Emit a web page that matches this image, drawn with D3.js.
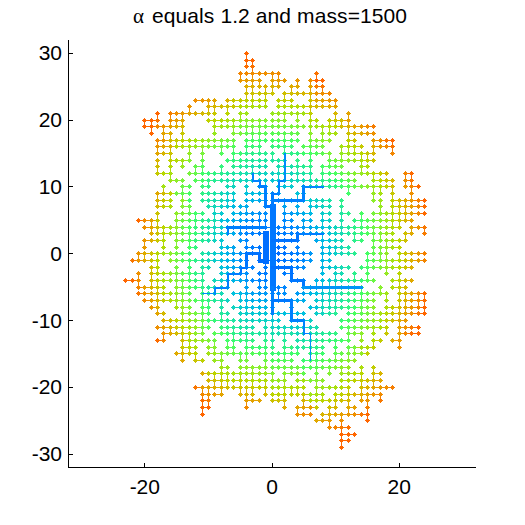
<!DOCTYPE html>
<html><head><meta charset="utf-8">
<script src="https://cdn.jsdelivr.net/npm/d3@7"></script>
<style>html,body{margin:0;padding:0;background:#fff}svg{display:block}text{font-family:"Liberation Sans",Arial,sans-serif;fill:#000}</style>
</head><body><div id="c"></div>
<script>
const titleText = "equals 1.2 and mass=1500";
const xTicks = [-20,0,20];
const yTicks = [-30,-20,-10,0,10,20,30];
// horizontal bonds of the lattice tree: row y, then [x1,x2] runs
const rowY = [30,29,28,27,26,25,24,23,22,21,20,19,18,17,16,15,14,13,12,11,10,9,8,7,6,5,4,3,2,1,0,-1,-2,-3,-4,-5,-6,-7,-8,-9,-10,-11,-12,-13,-14,-15,-16,-17,-18,-19,-20,-21,-22,-23,-24,-25,-26,-27,-28,-29];
const rowRuns = [
[[-4,-4]],
[[-4,-3]],
[[-4,-4],[-3,-3]],
[[-5,-5],[-4,1],[7,7]],
[[-5,-2],[0,2],[4,4],[6,8]],
[[-4,-3],[-2,-2],[-1,-1],[0,1],[3,4],[6,6],[7,8]],
[[-4,-4],[-3,0],[2,9]],
[[-12,-10],[-9,-9],[-7,-4],[-3,-1],[1,3],[6,10]],
[[-13,-13],[-10,-9],[-8,-1],[1,10]],
[[-18,-18],[-16,-13],[-12,-10],[-9,-9],[-7,-7],[-5,-4],[0,6],[10,10],[12,12]],
[[-20,-18],[-16,-14],[-10,-1],[0,2],[4,4],[6,7],[9,12]],
[[-20,-14],[-9,5],[7,16]],
[[-19,-19],[-17,-16],[-14,-14],[-9,-9],[-6,-1],[0,4],[6,6],[8,8],[9,10],[12,16]],
[[-18,-6],[-4,-1],[0,4],[6,9],[12,13],[16,19]],
[[-18,-6],[-4,-2],[0,3],[5,8],[11,14],[16,19]],
[[-18,-16],[-13,-13],[-11,-11],[-8,-8],[-6,-1],[0,0],[2,9],[11,16],[19,19]],
[[-18,-18],[-16,-13],[-11,-11],[-7,-1],[0,2],[4,4],[6,6],[9,16]],
[[-18,-18],[-16,-16],[-14,-14],[-12,-11],[-8,-8],[-6,-1],[1,6],[8,11],[14,15]],
[[-18,-16],[-13,-6],[-6,-1],[0,6],[8,18],[21,22]],
[[-16,-14],[-12,-3],[-3,-2],[-1,-1],[0,6],[7,13],[16,19],[21,22]],
[[-17,-17],[-14,-13],[-11,-10],[-7,-6],[-4,-4],[-2,-1],[1,3],[5,19],[22,23]],
[[-18,-13],[-11,-6],[-4,-1],[0,1],[4,4],[12,12],[16,16],[17,17],[19,19],[22,22]],
[[-18,-16],[-14,-13],[-11,-6],[-4,-2],[-1,-1],[0,9],[11,11],[16,16],[19,24]],
[[-18,-16],[-14,-13],[-10,-6],[-5,-4],[-1,-1],[0,0],[2,2],[4,4],[6,9],[11,11],[17,17],[19,24]],
[[-18,-18],[-15,-11],[-9,-8],[-6,-2],[-1,-1],[0,0],[2,6],[8,9],[11,12],[14,14],[16,24]],
[[-21,-18],[-15,-7],[-6,-2],[-1,-1],[0,0],[2,3],[5,6],[8,9],[11,11],[13,22]],
[[-20,-13],[-11,-1],[0,9],[10,20],[22,22],[23,24]],
[[-18,-6],[-5,-5],[-4,-1],[0,3],[4,8],[9,12],[13,16],[17,19],[21,22],[24,24]],
[[-20,-17],[-15,-10],[-8,-8],[-5,-4],[-1,-1],[0,4],[7,11],[13,14],[16,17],[18,21]],
[[-20,-20],[-17,-17],[-15,-15],[-13,-12],[-8,-6],[-4,-2],[-1,-1],[0,2],[4,4],[8,12],[17,20]],
[[-21,-13],[-11,-2],[-1,-1],[0,6],[8,9],[10,13],[15,16],[18,18],[20,24]],
[[-22,-18],[-16,-16],[-15,-5],[-4,-4],[-2,0],[0,6],[8,9],[15,24]],
[[-19,-18],[-15,-15],[-13,-13],[-11,-10],[-8,-4],[-3,-3],[-1,-1],[0,5],[8,12],[14,22]],
[[-21,-21],[-19,-11],[-8,-4],[-2,-1],[0,0],[2,3],[8,8],[10,11],[13,13],[15,15],[18,18],[20,20]],
[[-23,-21],[-19,-16],[-15,-11],[-9,-7],[-6,-4],[-3,-1],[0,0],[3,5],[7,7],[9,16],[19,22]],
[[-21,-17],[-15,-11],[-10,-7],[-2,-2],[-1,-1],[0,2],[5,14],[17,17],[19,21]],
[[-21,-16],[-15,-13],[-11,-8],[-6,-1],[0,0],[2,2],[4,18],[20,24]],
[[-20,-13],[-12,-7],[-5,-5],[-4,-1],[0,3],[4,5],[7,16],[18,18],[21,24]],
[[-19,-18],[-14,-13],[-11,-10],[-8,-8],[-6,-1],[0,0],[3,3],[6,16],[18,20],[21,24]],
[[-18,-17],[-14,-10],[-8,-7],[-5,-1],[0,5],[7,10],[12,24]],
[[-17,-6],[-5,-4],[-3,-1],[0,1],[3,6],[11,21]],
[[-18,-10],[-8,-3],[-1,-1],[0,7],[11,14],[15,18],[20,23]],
[[-17,-11],[-9,-1],[1,10],[12,14],[16,16],[18,18],[20,23]],
[[-18,-17],[-14,-10],[-9,-9],[-6,-3],[0,0],[2,2],[4,12],[14,14],[16,17],[19,20]],
[[-14,-12],[-10,-9],[-7,-6],[-4,-1],[0,0],[2,3],[5,8],[10,10],[12,16],[20,20]],
[[-15,-12],[-10,-5],[-3,-1],[0,4],[6,8],[10,11],[13,15]],
[[-14,-14],[-12,-11],[-9,-8],[-5,-5],[-4,-4],[-1,-1],[0,3],[5,13]],
[[-8,-7],[-5,-1],[0,6],[6,12],[14,14],[16,16]],
[[-11,-7],[-6,-1],[0,0],[2,5],[7,7],[9,9],[11,14],[16,17]],
[[-10,-7],[-6,-5],[-4,-1],[0,2],[4,6],[7,8],[11,17]],
[[-12,-7],[-6,-5],[-4,-1],[0,5],[7,10],[11,12],[14,15],[16,19]],
[[-11,-10],[-9,-8],[-5,-5],[-3,-3],[-1,-1],[0,2],[3,3],[4,4],[5,8],[10,17]],
[[-11,-10],[-4,-2],[0,2],[5,9],[11,12],[14,14],[17,17]],
[[-11,-10],[-4,-4],[2,2],[4,7],[9,10],[12,13],[15,15]],
[[-11,-11],[4,6],[8,15]],
[[7,9],[11,11],[15,15]],
[[9,9],[10,12]],
[[11,13]],
[[11,12]],
[[11,11]]
];
// vertical bonds: column x, then [y1,y2] runs
const colX = [-23,-21,-20,-19,-18,-17,-16,-15,-14,-13,-12,-11,-10,-9,-8,-7,-6,-5,-4,-3,-2,-1,0,1,2,3,4,5,6,7,8,9,10,11,12,13,14,15,16,17,18,19,20,21,22,23,24];
const colRuns = [
[],
[[0,-1],[-3,-4]],
[[20,19],[2,1],[0,-1]],
[[20,18],[5,3],[-2,-5]],
[[17,15],[14,12],[9,7],[6,3],[0,-3],[-4,-9]],
[[19,17],[4,1],[-12,-13]],
[[21,19],[18,17],[16,14],[14,11],[-11,-12]],
[[20,19],[17,16],[6,1],[-2,-8]],
[[21,17],[14,13],[9,7],[-4,-10],[-11,-13],[-13,-16]],
[[22,21],[16,14],[4,1],[-1,-4],[-12,-15]],
[[13,12],[6,4],[-15,-16]],
[[16,14],[14,12],[-2,-12],[-20,-24]],
[[22,21],[-20,-23],[-7,-9]],
[[23,21],[20,18],[7,2],[-13,-15],[-18,-20]],
[[17,15],[13,12],[-7,-10],[-15,-20]],
[[4,3],[9,7],[-3,-5],[-13,-14],[-18,-20]],
[[20,18],[17,14],[9,8],[-11,-15]],
[[27,26],[21,20],[-2,-3],[-15,-16],[-18,-21]],
[[30,28],[25,23],[20,18],[17,15],[0,-2],[-3,-9],[-12,-15],[-20,-23]],
[[29,28],[27,22],[19,17],[12,11],[-17,-21]],
[[26,25],[20,15],[11,10],[0,-1]],
[[25,22],[10,7],[3,-1],[-12,-16],[-19,-21]],
[[27,24],[9,-12]],
[[27,25],[13,11],[11,9],[-5,-7]],
[[24,23],[15,11],[8,4],[-11,-15],[-18,-23]],
[[25,24],[-2,-4],[-7,-10]],
[[26,25],[14,11],[3,2],[-14,-15],[-23,-24]],
[[10,8],[-4,-5],[-10,-12],[-21,-23]],
[[26,21],[20,19],[17,11],[8,6],[-12,-16]],
[[27,26],[-15,-20]],
[[25,24],[19,17],[13,11],[11,10],[6,4],[3,-3],[-4,-9],[-21,-22]],
[[20,18],[15,13],[1,0],[-4,-8],[-23,-26]],
[[23,22],[21,19],[-3,-9],[-13,-16],[-21,-23]],
[[20,19],[16,14],[8,3],[-26,-29]],
[[21,19],[19,15],[-14,-16],[-20,-24]],
[[16,15],[3,2],[-14,-15]],
[[15,12],[6,4],[-5,-9],[-17,-22]],
[[15,14],[0,-4],[-21,-25]],
[[17,15],[12,11],[4,0],[-13,-14],[-17,-18]],
[[8,6],[1,-1]],
[[2,-3]],
[[17,15],[10,4]],
[[8,4],[-3,-12],[-11,-14]],
[[12,10],[8,5],[-6,-9]],
[[12,10],[10,8]],
[[-6,-8]],
[[4,3],[-6,-9]]
];
// main stems and the flow they carry (from, to, flow)
const stemFrom = [[0,7],[0,-5],[-1,3],[0,7],[-1,7],[-1,10],[-2,10],[-2,11],[-3,11],[0,9],[0,9],[1,9],[1,11],[2,11],[0,8],[5,8],[5,10],[-1,4],[-7,4],[0,2],[4,2],[4,3],[0,-2],[3,-2],[3,-4],[5,-4],[5,-5],[-1,-1],[-2,-1],[-2,0],[-4,0],[-4,-2],[-5,-2],[-5,-3],[-7,-3],[-7,-5],[-9,-5],[-9,-6],[0,-7],[3,-7],[3,-10],[5,-10],[5,-12],[6,-12],[1,-5]];
const stemTo   = [[0,-5],[0,-9],[-1,-1],[-1,7],[-1,10],[-2,10],[-2,11],[-3,11],[-3,12],[0,7],[1,9],[1,11],[2,11],[2,15],[5,8],[5,10],[8,10],[-7,4],[-7,3],[4,2],[4,3],[8,3],[3,-2],[3,-4],[5,-4],[5,-5],[14,-5],[-2,-1],[-2,0],[-4,0],[-4,-2],[-5,-2],[-5,-3],[-7,-3],[-7,-5],[-9,-5],[-9,-6],[-11,-6],[3,-7],[3,-10],[5,-10],[5,-12],[6,-12],[6,-16],[1,-7]];
const stemFlow = [6,3,6,3,3,3,2,2,2,3,2,2,2,2,3,3,2,3,2,3,3,2,3,3,3,3,2.5,4,3,3,3,2,2,2,2,2,2,1.5,3,3,3,2,1.5,1.5,1.5];
// colour stops from the root out to the rim of the cluster
const colorAt = [0,.2,.35,.5,.6,.7,.8,.88,.95,1];
const depthColors = ["#0066ff","#0088ff","#00c0e0","#22e8a0","#44ff66","#88f030","#b8d800","#dcb000","#f08c00","#ff6600"];

const W=525,H=525;
const x=d3.scaleLinear().domain([-32,32]).range([68.5,475.5]);
const y=d3.scaleLinear().domain([-32,32]).range([467.5,40]);
const px=v=>Math.round(x(v)-.5)+.5, py=v=>Math.round(y(v)-.5)+.5;
const svg=d3.select("#c").append("svg").attr("width",W).attr("height",H);

// build graph
const key=(a,b)=>a+","+b, nodes=new Map(), adj=new Map();
const addN=(a,b)=>{const k=key(a,b);if(!nodes.has(k)){nodes.set(k,{x:a,y:b,k,d:-1});adj.set(k,new Set());}return k;};
const addE=(a,b,c,e)=>{const p=addN(a,b),q=addN(c,e);if(p!==q){adj.get(p).add(q);adj.get(q).add(p);}};
rowY.forEach((yy,i)=>rowRuns[i].forEach(([a,b])=>{addN(a,yy);for(let v=a;v<b;v++)addE(v,yy,v+1,yy);}));
colX.forEach((xx,i)=>colRuns[i].forEach(([a,b])=>{addN(xx,a);for(let v=a;v>b;v--)addE(xx,v,xx,v-1);}));
stemFrom.forEach((f,i)=>{const t=stemTo[i];const dx=Math.sign(t[0]-f[0]),dy=Math.sign(t[1]-f[1]);let a=f[0],b=f[1];let n=0;while((a!==t[0]||b!==t[1])&&n++<100){addE(a,b,a+dx,b+dy);a+=dx;b+=dy;}});
function bfs(){const q=[];nodes.forEach(n=>{if(n.d>=0)q.push(n);});q.sort((p,r)=>p.d-r.d);for(let i=0;i<q.length;i++){const n=q[i];adj.get(n.k).forEach(k=>{const m=nodes.get(k);if(m.d<0||m.d>n.d+1){m.d=n.d+1;q.push(m);}});}}
nodes.get(key(0,0)).d=0;bfs();
// join any stray piece to the tree through a lattice neighbour
for(let guard=0;guard<500;guard++){let best=null;nodes.forEach(n=>{if(n.d>=0)return;[[0,1],[0,-1],[1,0],[-1,0]].forEach(([a,b],i)=>{const m=nodes.get(key(n.x+a,n.y+b));if(m&&m.d>=0&&(!best||m.d+(i>1?.5:0)<best.v))best={n,m,v:m.d+(i>1?.5:0)};});});if(!best)break;adj.get(best.n.k).add(best.m.k);adj.get(best.m.k).add(best.n.k);best.n.d=best.m.d+1;bfs();}

// colour: how far out a node sits towards the rim of the cluster in its direction
const nb=24, rim=new Array(nb).fill(0);
const bin=n=>Math.floor(((Math.atan2(n.y,n.x)+Math.PI)/(2*Math.PI))*nb)%nb;
nodes.forEach(n=>{const b=bin(n);rim[b]=Math.max(rim[b],Math.hypot(n.x,n.y));});
const rimS=rim.map((r,i)=>(rim[(i+nb-1)%nb]+2*r+rim[(i+1)%nb])/4);
nodes.forEach(n=>{n.t=Math.min(1,Math.hypot(n.x,n.y)/rimS[bin(n)]);});
const col=d3.scaleLinear().domain(colorAt).range(depthColors);
const edges=[];nodes.forEach(n=>adj.get(n.k).forEach(k=>{const m=nodes.get(k);if(n.k<k)edges.push([n,m]);}));
const g=svg.append("g").attr("shape-rendering","crispEdges");
g.selectAll("line.e").data(edges).join("line").attr("x1",d=>px(d[0].x)).attr("y1",d=>py(d[0].y)).attr("x2",d=>px(d[1].x)).attr("y2",d=>py(d[1].y)).attr("stroke",d=>col(Math.max(d[0].t,d[1].t))).attr("stroke-width",1);
const plus="M-2.5,-.5H-1.5V-1.5H-.5V-2.5H.5V-1.5H1.5V-.5H2.5V.5H1.5V1.5H.5V2.5H-.5V1.5H-1.5V.5H-2.5Z";
g.selectAll("path.n").data([...nodes.values()]).join("path").attr("d",plus).attr("transform",d=>`translate(${px(d.x)},${py(d.y)})`).attr("fill",d=>col(d.t));
const stems=stemFrom.map((f,i)=>({f,t:stemTo[i],w:stemFlow[i],c:Math.max(nodes.get(key(f[0],f[1])).t,nodes.get(key(stemTo[i][0],stemTo[i][1])).t)}));
g.selectAll("line.s").data(stems).join("line").attr("x1",d=>px(d.f[0])).attr("y1",d=>py(d.f[1])).attr("x2",d=>px(d.t[0])).attr("y2",d=>py(d.t[1])).attr("stroke",d=>col(d.c*.4)).attr("stroke-width",d=>d.w).attr("stroke-linecap","square");

// axes
const ax=svg.append("g").attr("stroke","#000").attr("stroke-width",1).attr("shape-rendering","crispEdges");
ax.append("line").attr("x1",x(-32)).attr("x2",x(-32)).attr("y1",y(32)).attr("y2",y(-32)+.5);
ax.append("line").attr("x1",x(-32)).attr("x2",x(32)).attr("y1",y(-32)).attr("y2",y(-32));
ax.selectAll("line.x").data(xTicks).join("line").attr("class","x").attr("x1",d=>px(d)).attr("x2",d=>px(d)).attr("y1",y(-32)).attr("y2",y(-32)-5);
ax.selectAll("line.y").data(yTicks).join("line").attr("class","y").attr("y1",d=>py(d)).attr("y2",d=>py(d)).attr("x1",x(-32)).attr("x2",x(-32)+4);
svg.selectAll("text.x").data(xTicks).join("text").attr("class","x").attr("x",d=>x(d)).attr("y",494).attr("text-anchor","middle").attr("font-size",21).text(d=>d<0?"-"+(-d):d);
svg.selectAll("text.y").data(yTicks).join("text").attr("class","y").attr("x",62).attr("y",d=>y(d)+7).attr("text-anchor","end").attr("font-size",21).text(d=>d<0?"-"+(-d):d);
svg.append("text").attr("x",133).attr("y",23).attr("font-size",21).attr("style",'font-family:"Liberation Serif",serif').text("α");
svg.append("text").attr("x",152).attr("y",23).attr("font-size",21).attr("textLength",255).text(titleText);
</script></body></html>
